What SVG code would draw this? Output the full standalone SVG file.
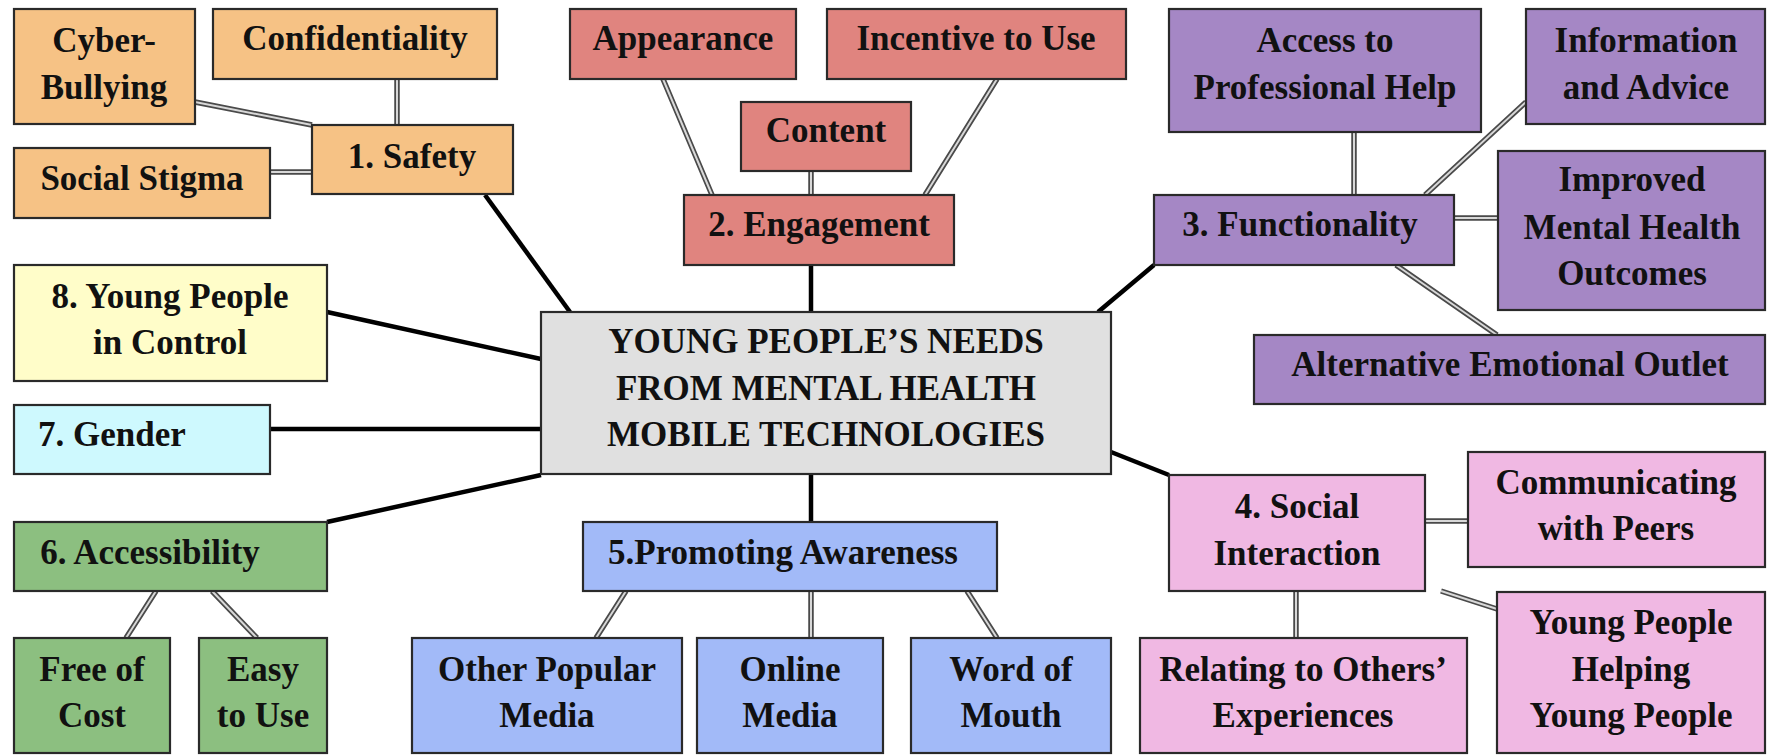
<svg xmlns="http://www.w3.org/2000/svg" width="1769" height="755" viewBox="0 0 1769 755">
<style>
.n{stroke:#2a2a2a;stroke-width:2.2}
text{font-family:"Liberation Serif","Times New Roman",serif;font-weight:bold;font-size:35px;fill:#111;text-anchor:middle}
.or{fill:#F6C285}.rd{fill:#E0847F}.pu{fill:#A587C5}.pk{fill:#F0B8E3}.bl{fill:#A2BAF8}.gr{fill:#8CBF80}.ye{fill:#FFFDC9}.cy{fill:#CEF9FE}.ce{fill:#E0E0E0}
.main{stroke:#000;stroke-width:4.5;fill:none}
.dbo{stroke:#4a4a4a;stroke-width:5.5;fill:none}
.dbi{stroke:#d8d8d8;stroke-width:2;fill:none}
</style>
<rect x="0" y="0" width="1769" height="755" fill="#fff"/>
<g id="connectors">
<g class="main">
<line x1="485" y1="195" x2="570" y2="312"/>
<line x1="811" y1="265" x2="811" y2="312"/>
<line x1="1154" y1="265" x2="1098" y2="312"/>
<line x1="327" y1="312" x2="541" y2="359"/>
<line x1="270" y1="429" x2="541" y2="429"/>
<line x1="327" y1="522" x2="541" y2="475"/>
<line x1="811" y1="522" x2="811" y2="474"/>
<line x1="1111" y1="452" x2="1169" y2="475"/>
</g>
<defs>
<path id="sec" d="M195 102L312 125M397 79L397 125M270 172L312 172M663 79L712 195M811 171L811 195M997 79L925 195M1354 132L1354 195M1526 102L1425 195M1454 218L1498 218M1396 265L1497 335M1425 521L1468 521M1441 591L1497 609M1296 591L1296 638M156 591L126 638M212 591L257 638M626 591L596 638M811 591L811 638M967 591L997 638"/>
</defs>
<use href="#sec" class="dbo"/>
<use href="#sec" class="dbi"/>
</g>
<g id="n-cyber"><rect class="n or" x="14" y="9" width="181" height="115"/><text x="104" y="52">Cyber-</text><text x="104" y="99">Bullying</text></g>
<g id="n-conf"><rect class="n or" x="213" y="9" width="284" height="70"/><text x="355" y="50">Confidentiality</text></g>
<g id="n-stigma"><rect class="n or" x="14" y="148" width="256" height="70"/><text x="142" y="190">Social Stigma</text></g>
<g id="n-safety"><rect class="n or" x="312" y="125" width="201" height="69"/><text x="412" y="168">1. Safety</text></g>
<g id="n-appearance"><rect class="n rd" x="570" y="9" width="226" height="70"/><text x="683" y="50">Appearance</text></g>
<g id="n-incentive"><rect class="n rd" x="827" y="9" width="299" height="70"/><text x="976" y="50">Incentive to Use</text></g>
<g id="n-content"><rect class="n rd" x="741" y="102" width="170" height="69"/><text x="826" y="142">Content</text></g>
<g id="n-engagement"><rect class="n rd" x="684" y="195" width="270" height="70"/><text x="819" y="236">2. Engagement</text></g>
<g id="n-access"><rect class="n pu" x="1169" y="9" width="312" height="123"/><text x="1325" y="52">Access to</text><text x="1325" y="99">Professional Help</text></g>
<g id="n-info"><rect class="n pu" x="1526" y="9" width="239" height="115"/><text x="1646" y="52">Information</text><text x="1646" y="99">and Advice</text></g>
<g id="n-improved"><rect class="n pu" x="1498" y="151" width="267" height="159"/><text x="1632" y="191">Improved</text><text x="1632" y="239">Mental Health</text><text x="1632" y="285">Outcomes</text></g>
<g id="n-functionality"><rect class="n pu" x="1154" y="195" width="300" height="70"/><text x="1300" y="236">3. Functionality</text></g>
<g id="n-alternative"><rect class="n pu" x="1254" y="335" width="511" height="69"/><text x="1510" y="376">Alternative Emotional Outlet</text></g>
<g id="n-control"><rect class="n ye" x="14" y="265" width="313" height="116"/><text x="170" y="308">8. Young People</text><text x="170" y="354">in Control</text></g>
<g id="n-gender"><rect class="n cy" x="14" y="405" width="256" height="69"/><text x="112" y="446">7. Gender</text></g>
<g id="n-center"><rect class="n ce" x="541" y="312" width="570" height="162"/><text x="826" y="353">YOUNG PEOPLE’S NEEDS</text><text x="826" y="400">FROM MENTAL HEALTH</text><text x="826" y="446">MOBILE TECHNOLOGIES</text></g>
<g id="n-accessibility"><rect class="n gr" x="14" y="522" width="313" height="69"/><text x="150" y="564">6. Accessibility</text></g>
<g id="n-promoting"><rect class="n bl" x="583" y="522" width="414" height="69"/><text x="783" y="564">5.Promoting Awareness</text></g>
<g id="n-social"><rect class="n pk" x="1169" y="475" width="256" height="116"/><text x="1297" y="518">4. Social</text><text x="1297" y="565">Interaction</text></g>
<g id="n-communicating"><rect class="n pk" x="1468" y="452" width="297" height="115"/><text x="1616" y="494">Communicating</text><text x="1616" y="540">with Peers</text></g>
<g id="n-helping"><rect class="n pk" x="1497" y="592" width="268" height="161"/><text x="1631" y="634">Young People</text><text x="1631" y="681">Helping</text><text x="1631" y="727">Young People</text></g>
<g id="n-relating"><rect class="n pk" x="1140" y="638" width="327" height="115"/><text x="1303" y="681">Relating to Others’</text><text x="1303" y="727">Experiences</text></g>
<g id="n-free"><rect class="n gr" x="14" y="638" width="156" height="115"/><text x="92" y="681">Free of</text><text x="92" y="727">Cost</text></g>
<g id="n-easy"><rect class="n gr" x="199" y="638" width="128" height="115"/><text x="263" y="681">Easy</text><text x="263" y="727">to Use</text></g>
<g id="n-other"><rect class="n bl" x="412" y="638" width="270" height="115"/><text x="547" y="681">Other Popular</text><text x="547" y="727">Media</text></g>
<g id="n-online"><rect class="n bl" x="697" y="638" width="186" height="115"/><text x="790" y="681">Online</text><text x="790" y="727">Media</text></g>
<g id="n-word"><rect class="n bl" x="911" y="638" width="200" height="115"/><text x="1011" y="681">Word of</text><text x="1011" y="727">Mouth</text></g>
</svg>
